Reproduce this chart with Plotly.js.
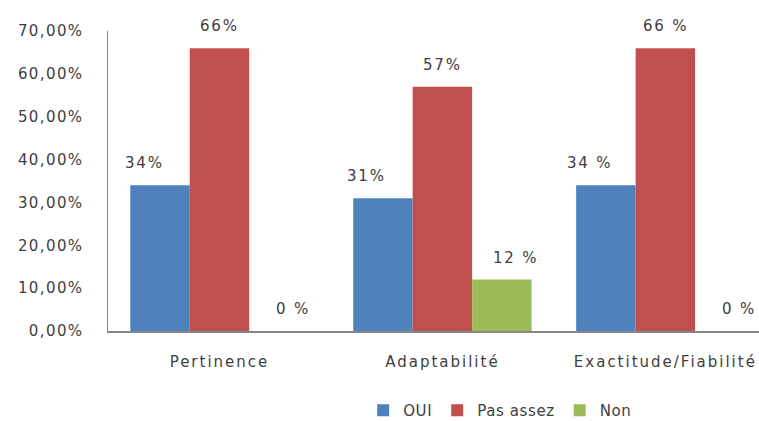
<!DOCTYPE html>
<html>
<head>
<meta charset="utf-8">
<script src="https://cdn.plot.ly/plotly-3.0.1.min.js"></script>
<style>
html,body{margin:0;padding:0;background:#fff;}
#chart{width:759px;height:421px;}
.ytick text{letter-spacing:1.4px;}
.xtick text{letter-spacing:2px;}
.annotation-text{letter-spacing:1.8px;}
.legendtext{letter-spacing:0.6px;}
</style>
</head>
<body>
<div id="chart"></div>
<script>
const categories = ["Pertinence", "Adaptabilité", "Exactitude/Fiabilité"];
const seriesNames = ["OUI", "Pas assez", "Non"];
const oui = [34, 31, 34];
const pasAssez = [66, 57, 66];
const non = [0, 12, 0];
const ouiLabels = ["34%", "31%", "34 %"];
const pasAssezLabels = ["66%", "57%", "66 %"];
const nonLabels = ["0 %", "12 %", "0 %"];
const yTickValues = [0, 10, 20, 30, 40, 50, 60, 70];
const yTickLabels = ["0,00%", "10,00%", "20,00%", "30,00%", "40,00%", "50,00%", "60,00%", "70,00%"];

const colors = ["#4F81BD", "#C0504D", "#9BBB59"];
const values = [oui, pasAssez, non];
const labels = [ouiLabels, pasAssezLabels, nonLabels];
const labelXShift = [-16, 0, 14];
const bargap = 0.2;
const barW = (1 - bargap) / 3;
const font = "DejaVu Sans, sans-serif";
const textColor = "#404040";

const traces = values.map((v, i) => ({
  type: "bar",
  name: seriesNames[i],
  x: categories,
  y: v,
  marker: {color: colors[i]},
  hoverinfo: "none"
}));

const annotations = [];
values.forEach((v, i) => {
  v.forEach((val, j) => {
    annotations.push({
      x: j + (i - 1) * barW,
      y: val,
      xref: "x", yref: "y",
      text: labels[i][j],
      showarrow: false,
      yanchor: "bottom",
      yshift: 11,
      xshift: labelXShift[i],
      font: {family: font, size: 15, color: textColor}
    });
  });
});

const layout = {
  width: 759, height: 421,
  margin: {l: 108, r: 0, t: 31, b: 90, autoexpand: false},
  paper_bgcolor: "#ffffff",
  plot_bgcolor: "#ffffff",
  barmode: "group",
  bargap: bargap,
  bargroupgap: 0,
  showlegend: true,
  legend: {
    orientation: "h",
    x: 0.392, y: -0.265,
    xanchor: "left", yanchor: "middle",
    font: {family: font, size: 15, color: textColor},
    itemwidth: 30,
    itemclick: false
  },
  xaxis: {
    type: "category",
    range: [-0.5, 2.42],
    showline: true,
    linecolor: "#868686",
    linewidth: 1.5,
    ticks: "",
    showgrid: false,
    zeroline: false,
    tickfont: {family: font, size: 15, color: textColor},
    ticklabelstandoff: 16,
    fixedrange: true
  },
  yaxis: {
    range: [0, 70],
    tickvals: yTickValues,
    ticktext: yTickLabels,
    showline: true,
    linecolor: "#868686",
    linewidth: 1.5,
    ticks: "",
    showgrid: false,
    zeroline: false,
    tickfont: {family: font, size: 15, color: textColor},
    ticklabelstandoff: 20,
    fixedrange: true
  },
  annotations: annotations
};

Plotly.newPlot("chart", traces, layout, {staticPlot: true, displayModeBar: false});
</script>
</body>
</html>
